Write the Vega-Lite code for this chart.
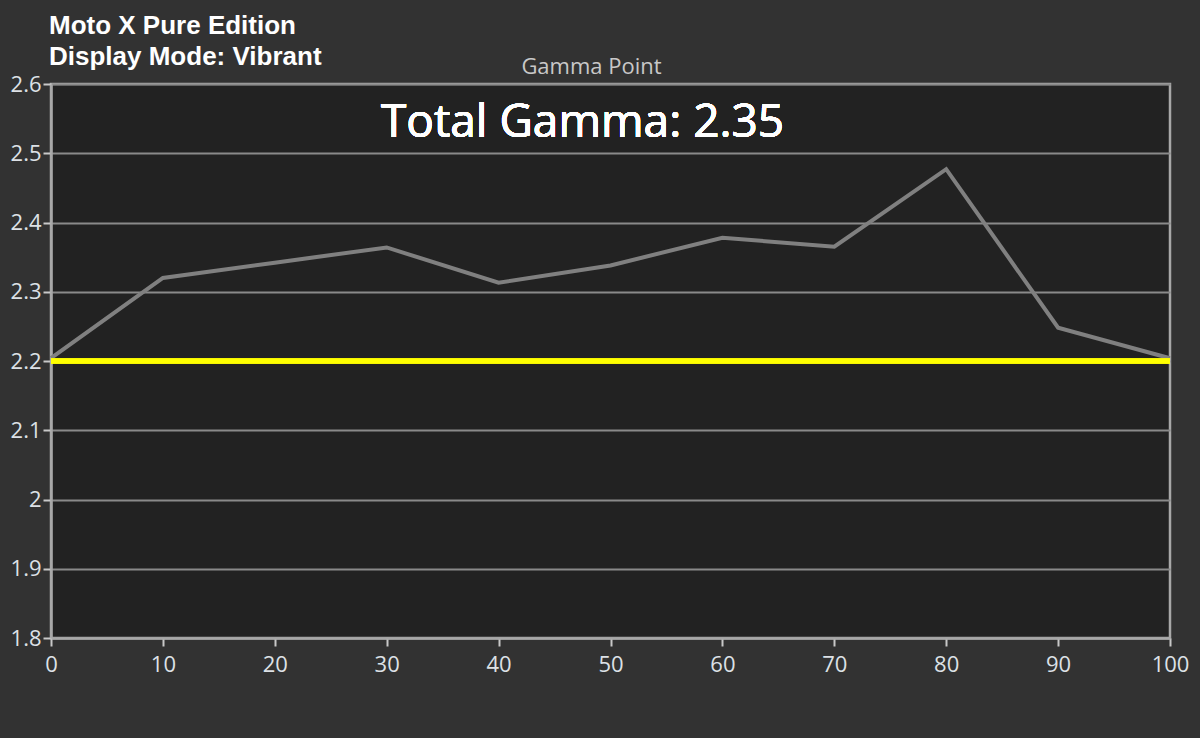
{
  "$schema": "https://vega.github.io/schema/vega-lite/v6.json",
  "width": 1119,
  "height": 554,
  "autosize": "none",
  "padding": {"left": 51, "top": 84, "right": 30, "bottom": 100},
  "background": "#323232",
  "title": {
    "text": ["Moto X Pure Edition", "Display Mode: Vibrant"],
    "anchor": "start",
    "frame": "group",
    "dx": -2,
    "offset": -15,
    "font": "Liberation Sans",
    "fontSize": 26,
    "fontWeight": "bold",
    "color": "#ffffff",
    "lineHeight": 31
  },
  "config": {
    "view": {"fill": "#222222", "stroke": "#a8a8a8", "strokeWidth": 2.5},
    "axis": {
      "labelFont": "Open Sans",
      "labelFontSize": 22,
      "labelColor": "#dde1e6",
      "titleFont": "Open Sans",
      "titleFontSize": 22,
      "titleFontWeight": "normal",
      "titleColor": "#c8c8c8",
      "domainColor": "#a8a8a8",
      "domainWidth": 2.5,
      "tickColor": "#c8c8c8",
      "tickWidth": 2,
      "gridColor": "#8a8a8a",
      "gridWidth": 2,
      "gridOpacity": 1
    }
  },
  "data": {
    "values": [
      {"point": 0, "gamma": 2.204},
      {"point": 10, "gamma": 2.32},
      {"point": 20, "gamma": 2.342},
      {"point": 30, "gamma": 2.364},
      {"point": 40, "gamma": 2.313},
      {"point": 50, "gamma": 2.338},
      {"point": 60, "gamma": 2.378},
      {"point": 70, "gamma": 2.365},
      {"point": 80, "gamma": 2.477},
      {"point": 90, "gamma": 2.248},
      {"point": 100, "gamma": 2.204}
    ]
  },
  "resolve": {"axis": {"x": "independent"}},
  "layer": [
    {
      "mark": {"type": "line", "color": "#808080", "strokeWidth": 4},
      "encoding": {
        "x": {
          "field": "point",
          "type": "quantitative",
          "scale": {"domain": [0, 100], "nice": false},
          "axis": {
            "orient": "bottom",
            "title": null,
            "values": [0, 10, 20, 30, 40, 50, 60, 70, 80, 90, 100],
            "grid": false,
            "labelFlush": false,
            "tickSize": 8,
            "labelPadding": 8
          }
        },
        "y": {
          "field": "gamma",
          "type": "quantitative",
          "scale": {"domain": [1.8, 2.6], "nice": false, "zero": false},
          "axis": {
            "title": null,
            "values": [1.8, 1.9, 2, 2.1, 2.2, 2.3, 2.4, 2.5, 2.6],
            "format": "~g",
            "tickSize": 8,
            "labelPadding": 2,
            "labelBaseline": "middle"
          }
        }
      }
    },
    {
      "mark": {"type": "rule", "color": "#ffff00", "strokeWidth": 4.5},
      "encoding": {"y": {"datum": 2.2}}
    },
    {
      "mark": {
        "type": "text",
        "text": "Total Gamma: 2.35",
        "font": "Open Sans",
        "fontSize": 46,
        "color": "#ffffff",
        "align": "center",
        "baseline": "alphabetic"
      },
      "encoding": {
        "x": {
          "datum": 47.5,
          "type": "quantitative",
          "axis": {
            "orient": "top",
            "title": "Gamma Point",
            "labels": false,
            "ticks": false,
            "domain": false,
            "grid": false,
            "titleX": 540,
            "titleY": -11,
            "titleBaseline": "alphabetic"
          }
        },
        "y": {"datum": 2.524, "type": "quantitative"}
      }
    }
  ]
}
